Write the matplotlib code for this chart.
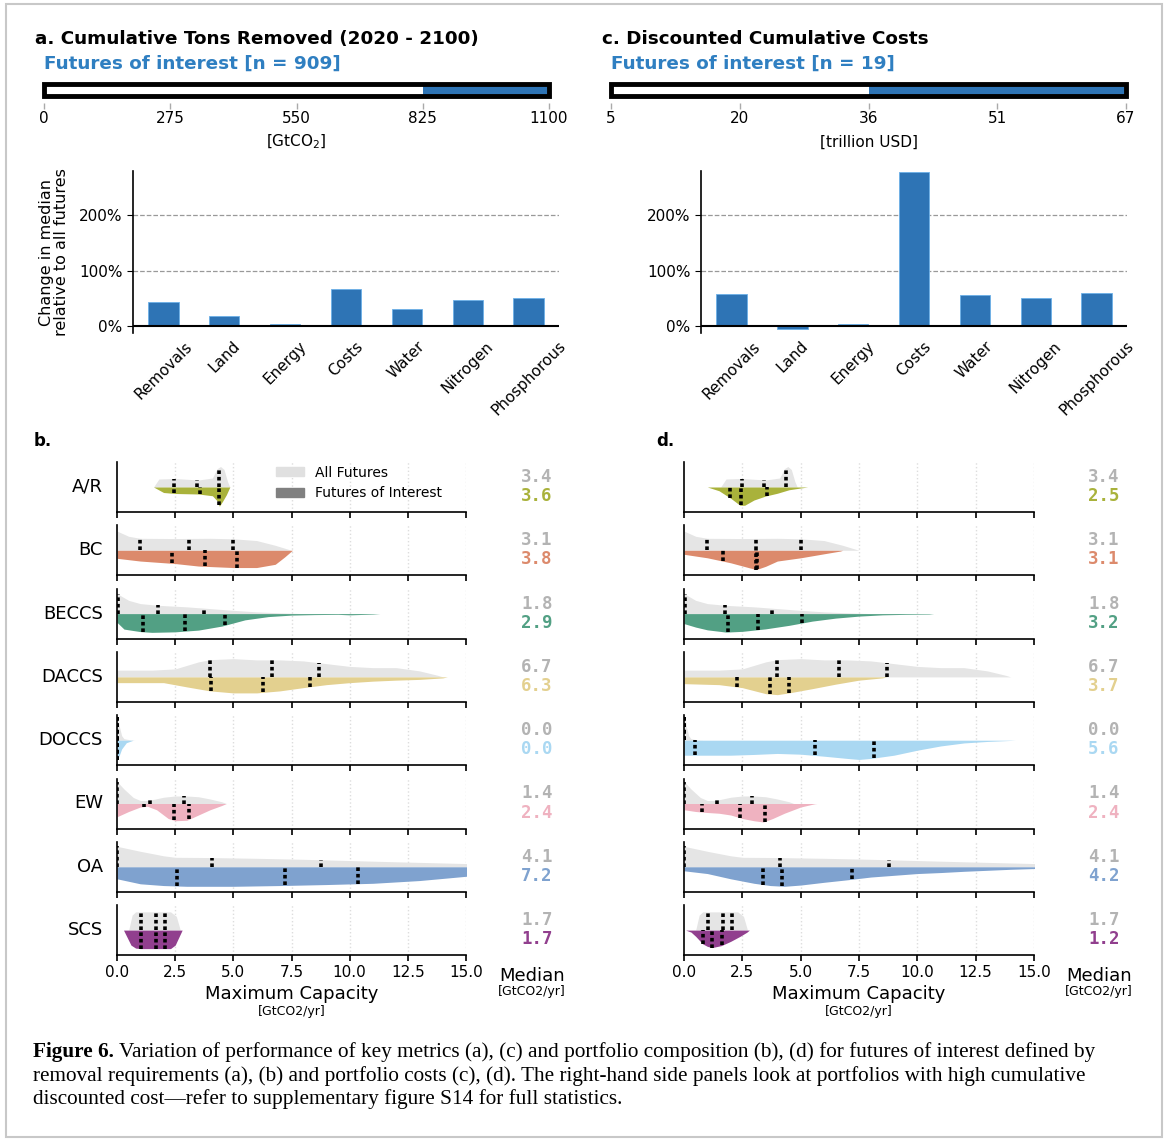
import numpy as np
import matplotlib.pyplot as plt
from matplotlib.patches import Patch, Rectangle

# ---- data ----
METRICS = ["Removals", "Land", "Energy", "Costs", "Water", "Nitrogen", "Phosphorous"]
CHANGE_REMOVALS = [44, 19.5, 3.5, 68, 32, 47.5, 50.5]     # % change in median, panel a
CHANGE_COSTS = [58, -4, 3.5, 279, 56, 50.5, 60]           # % change in median, panel c

REMOVAL_RANGE = (0, 1100)
REMOVAL_CUT = 825
REMOVAL_TICKS = ["0", "275", "550", "825", "1100"]
COST_RANGE = (5, 67)
COST_CUT = 36
COST_TICKS = ["5", "20", "36", "51", "67"]

TECHS = ["A/R", "BC", "BECCS", "DACCS", "DOCCS", "EW", "OA", "SCS"]
TECH_COLORS = ["#a9b23b", "#dc8a6c", "#52a084", "#e3d08f", "#aad8f2",
               "#efb2c0", "#7fa2cf", "#913f8e"]

MEDIAN_ALL = [3.4, 3.1, 1.8, 6.7, 0.0, 1.4, 4.1, 1.7]
MEDIAN_FOI_REMOVALS = [3.6, 3.8, 2.9, 6.3, 0.0, 2.4, 7.2, 1.7]
MEDIAN_FOI_COSTS = [2.5, 3.1, 3.2, 3.7, 5.6, 2.4, 4.2, 1.2]

# half-violin outlines: (capacity, relative half width)
ALL_PROFILES = {
    "A/R": [(1.57, 0), (1.8, 0.32), (2.5, 0.34), (3.5, 0.28), (4.1, 0.36), (4.3, 0.73),
            (4.45, 0.82), (4.6, 0.7), (4.75, 0.22), (4.85, 0)],
    "BC": [(0, 0.77), (0.5, 0.56), (1.0, 0.48), (2.5, 0.47), (4.0, 0.48), (5.0, 0.46),
           (6.0, 0.39), (6.8, 0.2), (7.5, 0)],
    "BECCS": [(0, 0.8), (0.5, 0.53), (1.0, 0.4), (1.8, 0.33), (3.0, 0.27), (4.0, 0.2),
              (5.0, 0.13), (6.0, 0.07), (7.0, 0.03), (8.0, 0)],
    "DACCS": [(0, 0.27), (1.5, 0.27), (2.5, 0.32), (3.5, 0.6), (4.0, 0.69), (5.0, 0.73),
              (6.0, 0.68), (7.0, 0.68), (8.0, 0.64), (9.0, 0.53), (10, 0.42), (11, 0.37),
              (12, 0.37), (13, 0.24), (13.8, 0.06), (14.0, 0)],
    "DOCCS": [(0, 0.93), (0.05, 0.9), (0.1, 0.55), (0.2, 0.18), (0.3, 0.06), (0.6, 0.01), (0.8, 0)],
    "EW": [(0, 0.88), (0.3, 0.58), (0.7, 0.24), (1.0, 0.12), (1.3, 0.12), (1.6, 0.17),
           (2.0, 0.25), (2.5, 0.3), (3.0, 0.3), (3.5, 0.27), (4.0, 0.18), (4.5, 0.07), (4.7, 0)],
    "OA": [(0, 0.82), (1, 0.62), (2, 0.44), (2.5, 0.38), (4, 0.37), (6, 0.34), (8, 0.3),
           (10, 0.25), (12, 0.2), (15, 0.13), (16, 0.11)],
    "SCS": [(0.5, 0), (0.65, 0.6), (0.8, 0.73), (2.3, 0.73), (2.55, 0.55), (2.72, 0)],
}
ALL_QUARTILES = {
    "A/R": [2.47, 3.43, 4.38], "BC": [1.0, 3.1, 5.0], "BECCS": [0.03, 1.76, 3.76],
    "DACCS": [4.0, 6.66, 8.68], "DOCCS": [0.0, 0.0, 0.0], "EW": [0.0, 1.43, 2.9],
    "OA": [0.0, 4.1, 8.77], "SCS": [1.02, 1.67, 2.06],
}

FOI_PROFILES_REMOVALS = {
    "A/R": [(1.57, 0), (2.0, 0.22), (2.5, 0.26), (3.5, 0.28), (4.1, 0.35), (4.3, 0.55),
            (4.4, 0.77), (4.55, 0.55), (4.7, 0.31), (4.85, 0)],
    "BC": [(0, 0.32), (1.0, 0.43), (2.5, 0.53), (3.5, 0.63), (5.0, 0.69), (6.0, 0.69),
           (6.8, 0.56), (7.2, 0.27), (7.5, 0.03), (7.55, 0)],
    "BECCS": [(0, 0.35), (0.3, 0.62), (1.0, 0.72), (1.5, 0.75), (2.5, 0.73), (3.5, 0.66),
              (4.5, 0.5), (5.5, 0.25), (6.5, 0.12), (7.5, 0.06), (8.5, 0.04), (9.5, 0.03),
              (10, 0.05), (11, 0.02), (11.3, 0)],
    "DACCS": [(0, 0.23), (2, 0.23), (3, 0.4), (4, 0.56), (5, 0.64), (6, 0.64), (7, 0.56),
              (8, 0.43), (9, 0.31), (10, 0.23), (11, 0.17), (12, 0.13), (13, 0.1),
              (14, 0.04), (14.2, 0)],
    "DOCCS": [(0, 0.8), (0.1, 0.6), (0.2, 0.35), (0.4, 0.1), (0.7, 0)],
    "EW": [(0, 0.53), (0.5, 0.32), (1.0, 0.14), (1.3, 0.11), (1.7, 0.25), (2.2, 0.6),
           (2.5, 0.69), (3.0, 0.67), (3.5, 0.46), (4.0, 0.25), (4.5, 0.08), (4.7, 0)],
    "OA": [(0, 0.48), (1, 0.68), (2, 0.75), (3, 0.78), (5, 0.78), (7, 0.75), (9, 0.71),
           (11, 0.66), (13, 0.55), (15, 0.38), (16, 0.3)],
    "SCS": [(0.28, 0), (0.6, 0.6), (0.8, 0.72), (1.0, 0.74), (2.3, 0.74), (2.5, 0.6), (2.8, 0)],
}
FOI_QUARTILES_REMOVALS = {
    "A/R": [2.47, 3.57, 4.38], "BC": [2.38, 3.79, 5.16], "BECCS": [1.11, 2.91, 4.65],
    "DACCS": [4.02, 6.26, 8.3], "DOCCS": [0.0, 0.0, 0.0], "EW": [1.17, 2.43, 3.08],
    "OA": [2.57, 7.23, 10.34], "SCS": [1.02, 1.67, 2.06],
}

FOI_PROFILES_COSTS = {
    "A/R": [(1.0, 0), (1.5, 0.15), (2.0, 0.45), (2.4, 0.73), (2.6, 0.73), (3.0, 0.52),
            (3.5, 0.36), (4.0, 0.25), (4.5, 0.11), (5.0, 0.04), (5.3, 0)],
    "BC": [(0, 0.16), (1.0, 0.3), (2.0, 0.5), (2.8, 0.7), (3.1, 0.77), (3.5, 0.64),
           (4.0, 0.43), (5.0, 0.3), (6.0, 0.14), (6.7, 0.03), (6.8, 0)],
    "BECCS": [(0, 0.4), (0.5, 0.54), (1.0, 0.65), (1.8, 0.74), (2.5, 0.71), (3.5, 0.61),
              (4.5, 0.47), (5.5, 0.3), (6.5, 0.18), (7.5, 0.1), (8.5, 0.05), (9.5, 0.03),
              (10.5, 0.02), (10.7, 0)],
    "DACCS": [(0, 0.27), (1.5, 0.31), (2.5, 0.43), (3.5, 0.67), (4.0, 0.71), (4.5, 0.64),
              (5.5, 0.47), (6.5, 0.29), (7.5, 0.13), (8.5, 0.04), (8.7, 0)],
    "DOCCS": [(0, 0.6), (2, 0.6), (3, 0.57), (4, 0.53), (5, 0.56), (6, 0.64), (7, 0.73),
              (7.5, 0.77), (8, 0.73), (9, 0.6), (10, 0.4), (11, 0.23), (12, 0.11),
              (13, 0.05), (14, 0.01), (14.2, 0)],
    "EW": [(0, 0.25), (0.5, 0.32), (1.0, 0.36), (1.5, 0.39), (2.0, 0.46), (2.5, 0.6),
           (3.0, 0.69), (3.4, 0.74), (3.8, 0.6), (4.3, 0.39), (5.0, 0.14), (5.6, 0.01), (5.7, 0)],
    "OA": [(0, 0.16), (1, 0.27), (2, 0.48), (3, 0.66), (3.7, 0.75), (4.3, 0.78), (5, 0.73),
           (6, 0.62), (7, 0.52), (8, 0.41), (9, 0.34), (10, 0.27), (11, 0.23), (12, 0.18),
           (13, 0.14), (14, 0.1), (15, 0.07), (16, 0.06)],
    "SCS": [(0.07, 0), (0.3, 0.08), (0.5, 0.25), (0.8, 0.55), (1.0, 0.65), (1.2, 0.7),
            (1.6, 0.62), (2.0, 0.45), (2.4, 0.25), (2.7, 0.08), (2.8, 0)],
}
FOI_QUARTILES_COSTS = {
    "A/R": [1.97, 2.45, 3.54], "BC": [1.68, 3.1, 3.14], "BECCS": [1.88, 3.17, 5.06],
    "DACCS": [2.25, 3.68, 4.49], "DOCCS": [0.47, 5.63, 8.13], "EW": [0.76, 2.4, 3.45],
    "OA": [3.39, 4.2, 7.2], "SCS": [0.81, 1.21, 1.64],
}

CAPTION_HEAD = "Figure 6."
CAPTION_FIRST = (" Variation of performance of key metrics (a), (c) and portfolio composition (b), (d) "
                 "for futures of interest defined by")
CAPTION = [
    "removal requirements (a), (b) and portfolio costs (c), (d). The right-hand side panels look at portfolios with high cumulative",
    "discounted cost\u2014refer to supplementary figure S14 for full statistics.",
]

W, H = 1168, 1144
BLUE_TXT = "#2f7fc1"
BAR_BLUE = "#2e74b5"
GRAY = "#e5e5e5"
DOTS = (0, (1.0, 0.8))


def add_ax(fig, x0, y0, x1, y1):
    return fig.add_axes([x0 / W, 1 - y1 / H, (x1 - x0) / W, (y1 - y0) / H])


def ftext(fig, x, y, s, **kw):
    return fig.text(x / W, 1 - y / H, s, **kw)


def draw_range(ax, rng, cut, labels):
    lo, hi = rng
    ax.barh(0, hi - lo, left=lo, height=1, color="white", lw=0)
    ax.barh(0, hi - cut, left=cut, height=1, color=BAR_BLUE, lw=0)
    ax.barh(0, hi - lo, left=lo, height=1, fill=False, edgecolor="black", lw=3.5, clip_on=False)
    ax.set_xlim(lo, hi)
    ax.set_ylim(-1.1, 0.55)
    for s in ax.spines.values():
        s.set_visible(False)
    ax.set_yticks([])
    ax.set_xticks(np.linspace(lo, hi, len(labels)), labels)
    ax.tick_params(axis="x", length=4, width=1, color="#aaaaaa", labelsize=11, pad=1.5)


def draw_change(ax, values):
    x = np.arange(len(METRICS))
    ax.bar(x, values, width=0.5, color=BAR_BLUE, edgecolor="#6cb0e8", lw=0.6, zorder=2)
    for yv in (100, 200):
        ax.axhline(yv, color="#999999", ls="--", lw=0.9, zorder=0)
    ax.axhline(0, color="black", lw=1.5, zorder=3)
    ax.set_xlim(-0.5, 6.5)
    ax.set_ylim(-12, 280)
    ax.set_yticks([0, 100, 200], ["0%", "100%", "200%"])
    for s in ("top", "right", "bottom"):
        ax.spines[s].set_visible(False)
    ax.spines["left"].set_linewidth(1.2)
    ax.set_xticks(x, METRICS, rotation=45)
    ax.tick_params(axis="x", length=0, labelsize=11, pad=4)
    ax.tick_params(axis="y", length=4, labelsize=11)


def draw_violin(ax, color, prof_all, prof_foi, q_all, q_foi, last):
    xa, ha = np.array(prof_all, dtype=float).T
    xf, hf = np.array(prof_foi, dtype=float).T
    for g in np.arange(2.5, 15.1, 2.5):
        ax.axvline(g, color="#dddddd", ls=":", lw=1, zorder=0)
    ax.fill_between(xa, 0, ha, color=GRAY, lw=0, zorder=1)
    ax.fill_between(xf, -hf, 0, color=color, lw=0, zorder=1)
    for q in q_all:
        ax.vlines(q, 0, np.interp(q, xa, ha, left=0, right=0), color="black",
                  lw=2.6, linestyles=DOTS, zorder=3)
    for q in q_foi:
        ax.vlines(q, -np.interp(q, xf, hf, left=0, right=0), 0, color="black",
                  lw=2.6, linestyles=DOTS, zorder=3)
    ax.set_xlim(0, 15)
    ax.set_ylim(-1, 1)
    for s in ("top", "right"):
        ax.spines[s].set_visible(False)
    ax.spines["left"].set_linewidth(1.2)
    ax.spines["bottom"].set_linewidth(1.2)
    ax.set_yticks([])
    ax.set_xticks(np.arange(0, 15.1, 2.5))
    ax.tick_params(axis="x", length=4, width=1.2, labelsize=11, labelbottom=last, pad=3)


fig = plt.figure(figsize=(W / 100, H / 100), dpi=100)
fig.patches.append(Rectangle((6 / W, 1 - 1137 / H), 1156 / W, 1133 / H, transform=fig.transFigure,
                             fill=False, edgecolor="#c8c8c8", lw=1.5))

# ---- top headers and range bars ----
for x0, x1, title, sub, rng, cut, labels, unit in [
    (44, 549, "a. Cumulative Tons Removed (2020 - 2100)", "Futures of interest [n = 909]",
     REMOVAL_RANGE, REMOVAL_CUT, REMOVAL_TICKS, "[GtCO$_2$]"),
    (611, 1126, "c. Discounted Cumulative Costs", "Futures of interest [n = 19]",
     COST_RANGE, COST_CUT, COST_TICKS, "[trillion USD]"),
]:
    ftext(fig, x0 - 9, 39, title, fontsize=13.2, fontweight="bold", va="center")
    ftext(fig, x0, 64, sub, fontsize=13.2, fontweight="bold", color=BLUE_TXT, va="center")
    ax = add_ax(fig, x0, 83, x1, 103)
    draw_range(ax, rng, cut, labels)
    ftext(fig, (x0 + x1) / 2, 142, unit, fontsize=11, ha="center", va="center")

# ---- bar charts of change in median ----
ax_a = add_ax(fig, 133, 171, 559, 333)
draw_change(ax_a, CHANGE_REMOVALS)
ftext(fig, 54, 252, "Change in median\nrelative to all futures", fontsize=11.5, rotation=90,
      ha="center", va="center", multialignment="center", linespacing=1.0)
ax_c = add_ax(fig, 701, 171, 1127, 333)
draw_change(ax_c, CHANGE_COSTS)

# ---- violin panels ----
ftext(fig, 34, 441, "b.", fontsize=12, fontweight="bold", va="center")
ftext(fig, 656, 441, "d.", fontsize=12, fontweight="bold", va="center")

for x0, x1, xm, prof_foi, q_foi, med_foi, labels in [
    (117, 466, 537, FOI_PROFILES_REMOVALS, FOI_QUARTILES_REMOVALS, MEDIAN_FOI_REMOVALS, True),
    (684, 1034, 1104, FOI_PROFILES_COSTS, FOI_QUARTILES_COSTS, MEDIAN_FOI_COSTS, False),
]:
    for i, tech in enumerate(TECHS):
        top = 462 + 63.3 * i
        ax = add_ax(fig, x0, top, x1, top + 50)
        last = i == len(TECHS) - 1
        draw_violin(ax, TECH_COLORS[i], ALL_PROFILES[tech], prof_foi[tech],
                    ALL_QUARTILES[tech], q_foi[tech], last)
        if labels:
            ax.text(-0.04, 0.5, tech, transform=ax.transAxes, ha="right", va="center",
                    fontsize=13)
        if labels and i == 0:
            ax.legend(handles=[Patch(color="#e0e0e0", label="All Futures"),
                               Patch(color="#808080", label="Futures of Interest")],
                      loc="center left", bbox_to_anchor=(0.42, 0.58), frameon=False,
                      fontsize=10, handlelength=2.0, handleheight=0.65, handletextpad=0.8,
                      labelspacing=0.5)
        ftext(fig, xm, top + 15, f"{MEDIAN_ALL[i]:.1f}", fontsize=12.5, fontweight="bold",
              family="DejaVu Sans Mono", color="#b3b3b3", ha="center", va="center")
        ftext(fig, xm, top + 34, f"{med_foi[i]:.1f}", fontsize=12.5, fontweight="bold",
              family="DejaVu Sans Mono", color=TECH_COLORS[i], ha="center", va="center")
    ftext(fig, (x0 + x1) / 2, 994, "Maximum Capacity", fontsize=13, ha="center", va="center")
    ftext(fig, (x0 + x1) / 2, 1012, "[GtCO2/yr]", fontsize=9, ha="center", va="center")
    ftext(fig, xm - 5, 976, "Median", fontsize=13, ha="center", va="center")
    ftext(fig, xm - 5, 992, "[GtCO2/yr]", fontsize=9, ha="center", va="center")

# ---- caption, sized so the first line spans the same width as the original ----
cap_font = ["Liberation Serif", "DejaVu Serif"]
r = fig.canvas.get_renderer()
head = ftext(fig, 33, 1052, CAPTION_HEAD, fontsize=13.5, fontweight="bold", family=cap_font,
             va="center")
first = ftext(fig, 33, 1052, CAPTION_FIRST, fontsize=13.5, family=cap_font, va="center")
rest = [ftext(fig, 33, 1076 + 23.5 * k, line, fontsize=13.5, family=cap_font, va="center")
        for k, line in enumerate(CAPTION)]
span = head.get_window_extent(r).width + first.get_window_extent(r).width
size = 13.5 * 1063 / span
for t in [head, first] + rest:
    t.set_fontsize(size)
hx = head.get_window_extent(r).x1
first.set_x(hx / W)

fig.savefig("out.png", dpi=100)
